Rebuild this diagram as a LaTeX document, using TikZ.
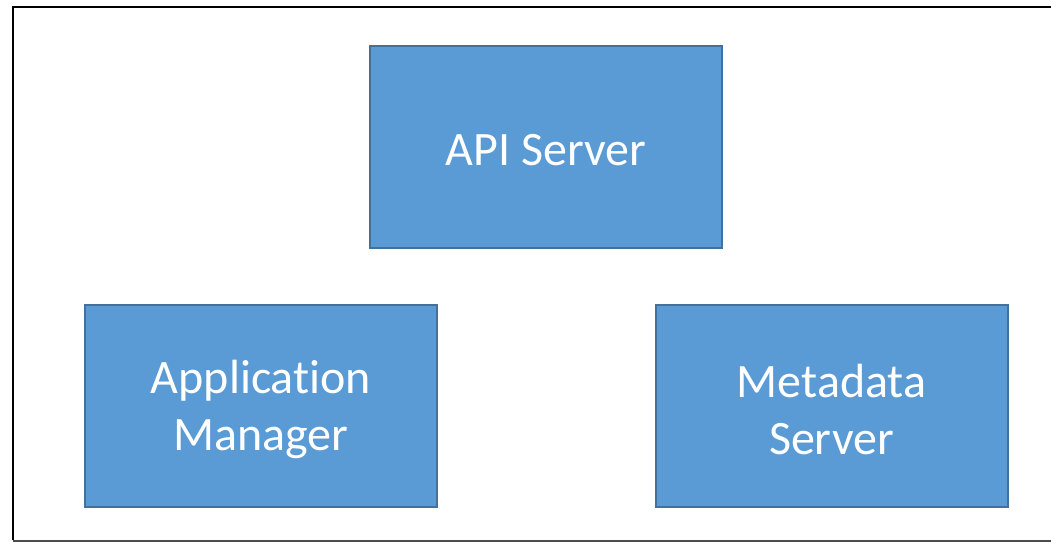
\documentclass[tikz,border=0pt]{standalone}
\usepackage{fontspec}
\setmainfont[Ligatures=NoCommon]{Carlito}
\definecolor{boxfill}{HTML}{5B9BD5}
\definecolor{boxedge}{HTML}{41719C}
\begin{document}
\begin{tikzpicture}[x=1pt,y=-1pt,
  compbox/.style={draw=boxedge,fill=boxfill,line width=2pt,minimum width=352pt,minimum height=202pt,inner sep=0pt},
  boxtext/.style={text=white,align=center,font=\fontsize{48}{57}\selectfont,inner sep=0pt,yshift=-3pt}]
  \useasboundingbox (0,0) rectangle (1051,541);
  % outer frame, right side runs past the page edge
  \begin{scope}
    \clip (0,0) rectangle (1051,541);
    \draw[line width=2.5pt,black] (13,539.5) -- (13,7) -- (1060,7);
    \draw[line width=2pt,black!70] (13,540.5) -- (1060,540.5);
  \end{scope}
  \node[compbox,label={[boxtext]center:API Server}] (api) at (546,147) {};
  \node[compbox,label={[boxtext]center:Application\\Manager}] (app) at (261,406) {};
  \node[compbox,label={[boxtext]center:Metadata\\Server}] (meta) at (831.5,406) {};
\end{tikzpicture}
\end{document}
